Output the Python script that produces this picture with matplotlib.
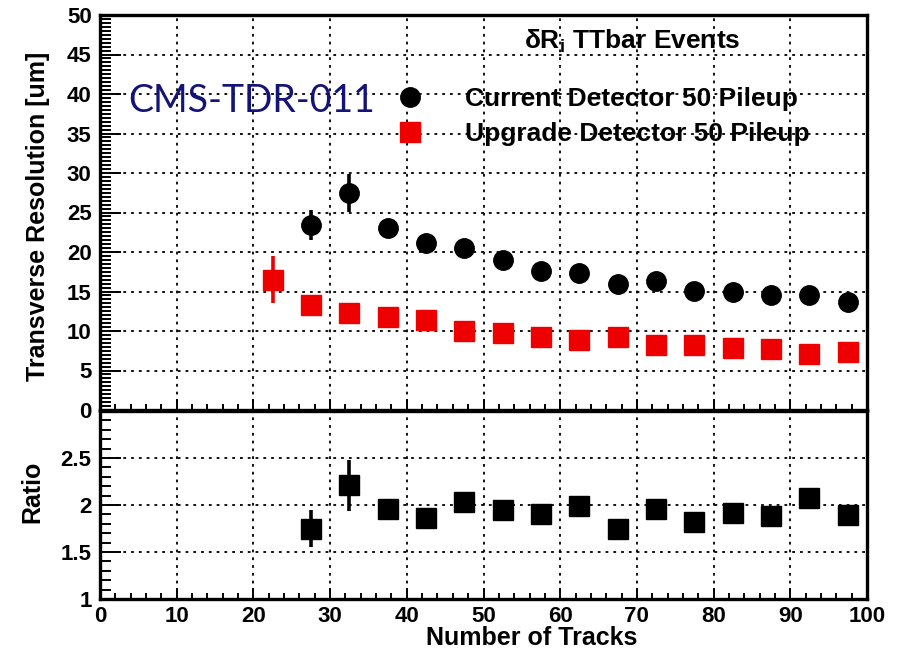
import matplotlib
matplotlib.use("Agg")
import matplotlib.pyplot as plt
from matplotlib.lines import Line2D
from matplotlib.ticker import MultipleLocator

plt.rcParams["font.family"] = ["Liberation Sans", "DejaVu Sans"]
plt.rcParams["font.weight"] = "bold"
plt.rcParams["mathtext.fontset"] = "custom"
plt.rcParams["mathtext.rm"] = "Liberation Sans:bold"
plt.rcParams["mathtext.it"] = "Liberation Sans:bold"
plt.rcParams["mathtext.bf"] = "Liberation Sans:bold"
plt.rcParams["lines.scale_dashes"] = False

# Bin centres (number of tracks)
n_tracks = [22.5, 27.5, 32.5, 37.5, 42.5, 47.5, 52.5, 57.5, 62.5, 67.5,
            72.5, 77.5, 82.5, 87.5, 92.5, 97.5]

# Current detector, 50 pileup (first bin empty)
cur_x = n_tracks[1:]
cur_res = [23.4, 27.5, 23.1, 21.1, 20.5, 19.0, 17.6, 17.3, 16.0, 16.3,
           15.1, 14.9, 14.5, 14.6, 13.7]
cur_err = [1.9, 2.4, 0.8, 0.7, 0.6, 0.6, 0.5, 0.5, 0.5, 0.5,
           0.4, 0.4, 0.4, 0.4, 0.4]

# Upgrade detector, 50 pileup
upg_x = n_tracks
upg_res = [16.5, 13.3, 12.3, 11.8, 11.4, 10.0, 9.7, 9.3, 8.8, 9.2,
           8.2, 8.2, 7.8, 7.7, 7.1, 7.3]
upg_err = [3.0, 0.7, 0.6, 0.5, 0.5, 0.4, 0.4, 0.4, 0.3, 0.3,
           0.3, 0.3, 0.3, 0.3, 0.3, 0.3]

# Current / upgrade ratio
ratio_x = n_tracks[1:]
ratio = [1.75, 2.21, 1.96, 1.86, 2.03, 1.95, 1.90, 1.99, 1.74, 1.96,
         1.82, 1.91, 1.88, 2.07, 1.89]
ratio_err = [0.20, 0.27, 0.08, 0.08, 0.07, 0.06, 0.06, 0.06, 0.06, 0.06,
             0.06, 0.06, 0.06, 0.07, 0.06]

W, H = 898, 649
fig = plt.figure(figsize=(W / 100, H / 100), dpi=100)

left, right = 100 / W, 867 / W
top_ax = fig.add_axes([left, 1 - 410 / H, right - left, (410 - 15) / H])
bot_ax = fig.add_axes([left, 1 - 599 / H, right - left, (599 - 411) / H])

grid_kw = dict(color="black", linestyle=(0, (2, 3.6)), linewidth=1.3)
tick_font = 16
label_font = 18

for ax in (top_ax, bot_ax):
    ax.set_xlim(0, 100)
    ax.xaxis.set_major_locator(MultipleLocator(10))
    ax.xaxis.set_minor_locator(MultipleLocator(2))
    for s in ax.spines.values():
        s.set_linewidth(2.4)
    ax.tick_params(axis="both", which="both", direction="in",
                   top=False, right=False, width=1.4)
    ax.tick_params(axis="x", which="major", length=8)
    ax.tick_params(axis="x", which="minor", length=4)
    ax.tick_params(axis="y", which="major", length=15)
    ax.tick_params(axis="y", which="minor", length=8)
    ax.grid(True, which="major", **grid_kw)
    ax.set_axisbelow(True)

# Upper panel: resolution
top_ax.set_ylim(0, 50)
top_ax.yaxis.set_major_locator(MultipleLocator(5))
top_ax.yaxis.set_minor_locator(MultipleLocator(0.5))
top_ax.tick_params(axis="x", labelbottom=False)
top_ax.tick_params(axis="y", labelsize=tick_font, pad=6)

top_ax.errorbar(cur_x, cur_res, yerr=cur_err, fmt="o", color="black",
                markersize=14, elinewidth=2.6, capsize=0, zorder=3)
top_ax.errorbar(upg_x, upg_res, yerr=upg_err, fmt="s", color="#ee0000",
                markersize=15, elinewidth=2.6, capsize=0, zorder=3)

top_ax.set_ylabel("Transverse Resolution [um]", fontsize=label_font,
                  fontweight="bold")
top_ax.yaxis.set_label_coords(-0.065, 0.489)

top_ax.text(0.694, 0.932, r"$\delta$R$_{\mathrm{i}}$ TTbar Events",
            transform=top_ax.transAxes, ha="center", va="center",
            fontsize=19, fontweight="bold")

top_ax.text(0.0365, 0.754, "CMS-TDR-011", transform=top_ax.transAxes,
            ha="left", va="baseline", fontsize=27, color="#141478",
            family=["Lato", "DejaVu Sans"], fontweight="normal")

handles = [
    Line2D([], [], linestyle="none", marker="o", markersize=14, color="black"),
    Line2D([], [], linestyle="none", marker="s", markersize=15, color="#ee0000"),
]
top_ax.legend(handles, ["Current Detector 50 Pileup", "Upgrade Detector 50 Pileup"],
              loc="upper left", bbox_to_anchor=(0.383, 0.8165), frameon=False,
              prop={"size": 19, "weight": "bold"}, handlelength=1.2,
              handletextpad=1.49, labelspacing=0.39, borderpad=0.0,
              borderaxespad=0.0)

# Lower panel: ratio
bot_ax.set_ylim(1, 3)
bot_ax.set_yticks([1, 1.5, 2, 2.5])
bot_ax.set_yticklabels(["1", "1.5", "2", "2.5"])
bot_ax.yaxis.set_minor_locator(MultipleLocator(0.1))
bot_ax.tick_params(axis="both", labelsize=tick_font)
bot_ax.tick_params(axis="y", pad=6)
bot_ax.tick_params(axis="x", pad=5)
bot_ax.grid(False)
bot_ax.grid(True, axis="x", which="major", **grid_kw)
for yv in (1.5, 2.0, 2.5):
    bot_ax.axhline(yv, zorder=0.5, **grid_kw)

bot_ax.errorbar(ratio_x, ratio, yerr=ratio_err, fmt="s", color="black",
                markersize=14, elinewidth=2.6, capsize=0, zorder=3)

bot_ax.set_ylabel("Ratio", fontsize=label_font, fontweight="bold")
bot_ax.yaxis.set_label_coords(-0.072, 0.57)
bot_ax.set_xlabel("Number of Tracks", fontsize=label_font, fontweight="bold")
bot_ax.xaxis.set_label_coords(0.563, -0.145)
bot_ax.xaxis.label.set_va("top")

for lab in bot_ax.get_xticklabels() + bot_ax.get_yticklabels() + top_ax.get_yticklabels():
    lab.set_fontweight("bold")

fig.savefig("out.png", dpi=100)
